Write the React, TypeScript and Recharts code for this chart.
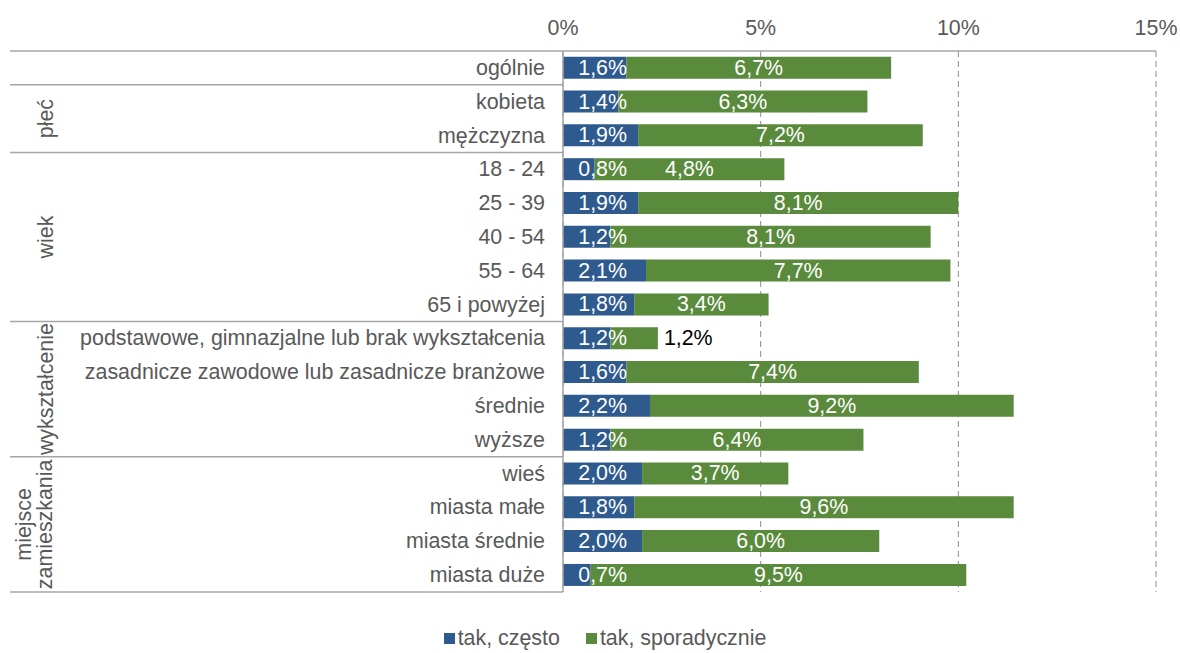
import { BarChart, Bar, XAxis, YAxis, CartesianGrid, LabelList } from 'recharts'

const categories = [
    'ogólnie',
    'kobieta',
    'mężczyzna',
    '18 - 24',
    '25 - 39',
    '40 - 54',
    '55 - 64',
    '65 i powyżej',
    'podstawowe, gimnazjalne lub brak wykształcenia',
    'zasadnicze zawodowe lub zasadnicze branżowe',
    'średnie',
    'wyższe',
    'wieś',
    'miasta małe',
    'miasta średnie',
    'miasta duże',
]
const czesto = [1.6, 1.4, 1.9, 0.8, 1.9, 1.2, 2.1, 1.8, 1.2, 1.6, 2.2, 1.2, 2.0, 1.8, 2.0, 0.7]
const sporadycznie = [6.7, 6.3, 7.2, 4.8, 8.1, 8.1, 7.7, 3.4, 1.2, 7.4, 9.2, 6.4, 3.7, 9.6, 6.0, 9.5]
const groupNames = [[], ['płeć'], ['wiek'], ['wykształcenie'], ['miejsce', 'zamieszkania']]
const groupSizes = [1, 2, 5, 4, 4]
const xTicks = [0, 5, 10, 15]
const seriesNames = ['tak, często', 'tak, sporadycznie']

const W = 1180
const H = 653
const MARGIN = { top: 21, right: 24, bottom: 61, left: 10 }
const X_AXIS_H = 30
const Y_AXIS_W = 553
const FONT = '"Liberation Sans", Arial, sans-serif'
const FS = 21.4
const GRAY = '#595959'
const LINE = '#a6a6a6'
const BLUE = '#2e5a8e'
const GREEN = '#5a8a3c'

const data = categories.map((name, i) => ({ name, czesto: czesto[i], sporadycznie: sporadycznie[i] }))

// which row starts which group
const groupStart: Record<number, number> = {}
let acc = 0
groupSizes.forEach((n, g) => { groupStart[acc] = g; acc += n })

const fmt = (v: number) => v.toFixed(1).replace('.', ',') + '%'

function CategoryTick(props: any) {
    const { x, y, payload, index } = props
    const plotH = H - MARGIN.top - X_AXIS_H - MARGIN.bottom
    const rowH = payload && payload.offset ? payload.offset * 2 : plotH / categories.length
    const axisX = x + 18
    const g = groupStart[index]
    const last = index === categories.length - 1
    return (
        <g>
            <text x={x} y={y} textAnchor='end' dominantBaseline='central' fill={GRAY} fontSize={FS} fontFamily={FONT}>
                {payload.value}
            </text>
            {g !== undefined && (
                <line x1={10} x2={axisX} y1={y - rowH / 2} y2={y - rowH / 2} stroke={LINE} strokeWidth={1.5} />
            )}
            {last && <line x1={10} x2={axisX} y1={y + rowH / 2} y2={y + rowH / 2} stroke={LINE} strokeWidth={1.5} />}
            {g !== undefined && groupNames[g].map((t, k) => {
                const cy = y + (groupSizes[g] - 1) * rowH / 2
                const lines = groupNames[g].length
                const bx = lines === 1 ? 53 : 31 + k * 21
                return (
                    <text key={k} x={bx} y={cy} transform={`rotate(-90 ${bx} ${cy})`} textAnchor='middle'
                        fill={GRAY} fontSize={FS} fontFamily={FONT}>
                        {t}
                    </text>
                )
            })}
        </g>
    )
}

function TopTick(props: any) {
    const { x, y, payload } = props
    return (
        <text x={x} y={y} textAnchor='middle' fill={GRAY} fontSize={FS} fontFamily={FONT}>
            {payload.value}%
        </text>
    )
}

function BlueLabel(p: any) {
    return (
        <text x={p.x + 64} y={p.y + p.height / 2} textAnchor='end' dominantBaseline='central' fill='#fff'
            fontSize={FS} fontFamily={FONT}>
            {fmt(Number(p.value))}
        </text>
    )
}

function GreenLabel(p: any) {
    const v = Number(p.value)
    if (v < 1.5) {
        return (
            <text x={p.x + p.width + 6} y={p.y + p.height / 2} textAnchor='start' dominantBaseline='central'
                fill='#000' fontSize={FS} fontFamily={FONT}>
                {fmt(v)}
            </text>
        )
    }
    return (
        <text x={p.x + p.width / 2} y={p.y + p.height / 2} textAnchor='middle' dominantBaseline='central' fill='#fff'
            fontSize={FS} fontFamily={FONT}>
            {fmt(v)}
        </text>
    )
}

export default function App() {
    return (
        <div style={{ position: 'absolute', left: 0, top: 0, width: W, height: H, background: '#fff' }}>
            <BarChart width={W} height={H} data={data} layout='vertical' margin={MARGIN} barCategoryGap='17%'>
                <CartesianGrid horizontal={false} vertical={true} stroke='#8c8c8c' strokeDasharray='6 4' />
                <XAxis type='number' orientation='top' domain={[0, 15]} ticks={xTicks} height={X_AXIS_H}
                    axisLine={{ stroke: LINE, strokeWidth: 1.5 }} tickLine={false} tickSize={0} tickMargin={16}
                    tick={<TopTick />} interval={0} />
                <YAxis type='category' dataKey='name' width={Y_AXIS_W} axisLine={{ stroke: LINE, strokeWidth: 1.5 }}
                    tickLine={false} tickSize={0} tickMargin={18} tick={<CategoryTick />} interval={0} />
                <Bar dataKey='czesto' name={seriesNames[0]} stackId='a' fill={BLUE} isAnimationActive={false}>
                    <LabelList dataKey='czesto' content={<BlueLabel />} />
                </Bar>
                <Bar dataKey='sporadycznie' name={seriesNames[1]} stackId='a' fill={GREEN} isAnimationActive={false}>
                    <LabelList dataKey='sporadycznie' content={<GreenLabel />} />
                </Bar>
            </BarChart>
            <div style={{ position: 'absolute', top: 626, left: 0, width: W, display: 'flex', justifyContent: 'center',
                gap: 26, fontFamily: FONT, fontSize: FS, color: GRAY, paddingLeft: 30, boxSizing: 'border-box' }}>
                {seriesNames.map((s, i) => (
                    <div key={s} style={{ display: 'flex', alignItems: 'center' }}>
                        <span style={{ display: 'inline-block', width: 11, height: 11, background: i === 0 ? BLUE : GREEN,
                            marginRight: 3 }} />
                        <span>{s}</span>
                    </div>
                ))}
            </div>
        </div>
    )
}
